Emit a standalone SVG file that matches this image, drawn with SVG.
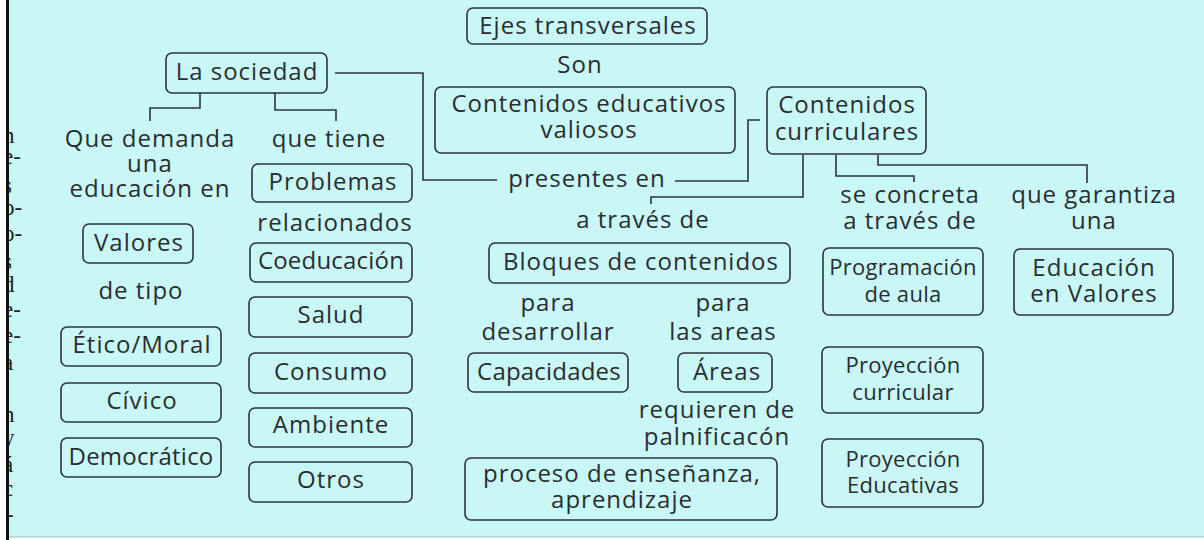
<svg xmlns="http://www.w3.org/2000/svg" width="1204" height="540" viewBox="0 0 1204 540">
<style>
.bg{fill:#c8f7f6}
.box{fill:none;stroke:#2e3338;stroke-width:1.6}
.t{font-family:"Open Sans","Liberation Sans",sans-serif;font-size:24px;fill:#2a2d30;text-anchor:middle;letter-spacing:1px}
.n{letter-spacing:0.3px;font-size:22px}
.m{letter-spacing:0.2px}
.c{fill:none;stroke:#2e3338;stroke-width:1.6}
.f{font-family:"Liberation Serif",serif;font-size:23px;fill:#222}
</style>
<rect class="bg" x="0" y="0" width="1204" height="540"/>
<g id="margin">
<text class="f" x="3" y="143">n</text>
<text class="f" x="3" y="164">e-</text>
<text class="f" x="3" y="193">s</text>
<text class="f" x="3" y="215">o-</text>
<text class="f" x="3" y="241">o-</text>
<text class="f" x="3" y="269">s</text>
<text class="f" x="3" y="292">d</text>
<text class="f" x="3" y="317">e-</text>
<text class="f" x="3" y="343">e-</text>
<text class="f" x="3" y="370">a</text>
<text class="f" x="3" y="422">n</text>
<text class="f" x="3" y="445">y</text>
<text class="f" x="3" y="472">á</text>
<text class="f" x="3" y="496">c</text>
<text class="f" x="6" y="522">-</text>
<rect x="0" y="0" width="6" height="540" fill="#ffffff"/>
<rect x="6" y="0" width="3" height="540" fill="#111111"/>
<rect x="9" y="537" width="1195" height="3" fill="#ffffff"/>
<line x1="9" y1="537" x2="1204" y2="537" stroke="#9fb8bd" stroke-width="1"/>
</g>
<g id="connectors">
<polyline class="c" points="335,73 423,73 423,180 497,180"/>
<polyline class="c" points="675,181 748,181 748,120 760,120"/>
<polyline class="c" points="803,155 803,197 651,197 651,204"/>
<polyline class="c" points="836,155 836,176 914,176 914,182"/>
<polyline class="c" points="878,155 878,165 1087,165 1087,183"/>
<polyline class="c" points="200,93 200,108 150,108 150,121"/>
<polyline class="c" points="275,93 275,110 336,110 336,121"/>
</g>
<g id="ejes"><rect class="box" x="467" y="8" width="240" height="36" rx="6"/><text class="t" x="588" y="34">Ejes transversales</text></g>
<g id="son"><text class="t" x="580" y="73">Son</text></g>
<g id="valiosos"><rect class="box" x="435" y="87" width="300" height="66" rx="6"/><text class="t" x="589" y="112">Contenidos educativos</text><text class="t" x="589" y="138">valiosos</text></g>
<g id="sociedad"><rect class="box" x="166" y="53" width="161" height="40" rx="6"/><text class="t" x="247" y="80">La sociedad</text></g>
<g id="curriculares"><rect class="box" x="767" y="87" width="159" height="67" rx="6"/><text class="t" x="847" y="113">Contenidos</text><text class="t" x="847" y="140">curriculares</text></g>
<g id="presentes"><text class="t" x="587" y="187">presentes en</text></g>
<g id="demanda"><text class="t" x="150" y="147">Que demanda</text><text class="t" x="150" y="172">una</text><text class="t" x="150" y="197">educación en</text></g>
<g id="tiene"><text class="t" x="329" y="147">que tiene</text></g>
<g id="problemas"><rect class="box" x="252" y="164" width="160" height="38" rx="6"/><text class="t" x="333" y="190">Problemas</text></g>
<g id="relacionados"><text class="t" x="335" y="231">relacionados</text></g>
<g id="coeducacion"><rect class="box" x="250" y="243" width="162" height="39" rx="6"/><text class="t m" x="331" y="269">Coeducación</text></g>
<g id="salud"><rect class="box" x="249" y="297" width="163" height="40" rx="6"/><text class="t" x="331" y="323">Salud</text></g>
<g id="consumo"><rect class="box" x="249" y="353" width="163" height="40" rx="6"/><text class="t" x="331" y="380">Consumo</text></g>
<g id="ambiente"><rect class="box" x="249" y="408" width="163" height="39" rx="6"/><text class="t" x="331" y="433">Ambiente</text></g>
<g id="otros"><rect class="box" x="249" y="462" width="163" height="40" rx="6"/><text class="t" x="331" y="488">Otros</text></g>
<g id="valores"><rect class="box" x="83" y="224" width="110" height="39" rx="6"/><text class="t" x="139" y="251">Valores</text></g>
<g id="detipo"><text class="t" x="141" y="299">de tipo</text></g>
<g id="etico"><rect class="box" x="61" y="327" width="160" height="39" rx="6"/><text class="t" x="142" y="353">Ético/Moral</text></g>
<g id="civico"><rect class="box" x="61" y="383" width="160" height="39" rx="6"/><text class="t" x="142" y="409">Cívico</text></g>
<g id="democratico"><rect class="box" x="61" y="438" width="160" height="39" rx="6"/><text class="t m" x="141" y="465">Democrático</text></g>
<g id="atraves"><text class="t" x="643" y="228">a través de</text></g>
<g id="bloques"><rect class="box" x="489" y="243" width="301" height="40" rx="6"/><text class="t" x="641" y="270">Bloques de contenidos</text></g>
<g id="desarrollar"><text class="t" x="548" y="311">para</text><text class="t" x="548" y="340">desarrollar</text></g>
<g id="lasareas"><text class="t" x="723" y="311">para</text><text class="t" x="723" y="340">las areas</text></g>
<g id="capacidades"><rect class="box" x="468" y="353" width="160" height="39" rx="6"/><text class="t m" x="549" y="380">Capacidades</text></g>
<g id="areas"><rect class="box" x="678" y="353" width="94" height="39" rx="6"/><text class="t" x="727" y="380">Áreas</text></g>
<g id="requieren"><text class="t" x="717" y="418">requieren de</text><text class="t" x="717" y="445">palnificacón</text></g>
<g id="proceso"><rect class="box" x="465" y="458" width="312" height="62" rx="6"/><text class="t" x="622" y="482">proceso de enseñanza,</text><text class="t" x="622" y="508">aprendizaje</text></g>
<g id="concreta"><text class="t" x="910" y="203">se concreta</text><text class="t" x="910" y="229">a través de</text></g>
<g id="garantiza"><text class="t" x="1094" y="203">que garantiza</text><text class="t" x="1094" y="229">una</text></g>
<g id="programacion"><rect class="box" x="823" y="248" width="160" height="67" rx="6"/><text class="t n" x="903" y="275">Programación</text><text class="t n" x="903" y="302">de aula</text></g>
<g id="educacionvalores"><rect class="box" x="1014" y="249" width="159" height="66" rx="6"/><text class="t" x="1094" y="276">Educación</text><text class="t" x="1094" y="302">en Valores</text></g>
<g id="proycurricular"><rect class="box" x="822" y="347" width="161" height="66" rx="6"/><text class="t n" x="903" y="373">Proyección</text><text class="t n" x="903" y="400">curricular</text></g>
<g id="proyeducativas"><rect class="box" x="822" y="439" width="161" height="68" rx="6"/><text class="t n" x="903" y="467">Proyección</text><text class="t n" x="903" y="493">Educativas</text></g>
</svg>
